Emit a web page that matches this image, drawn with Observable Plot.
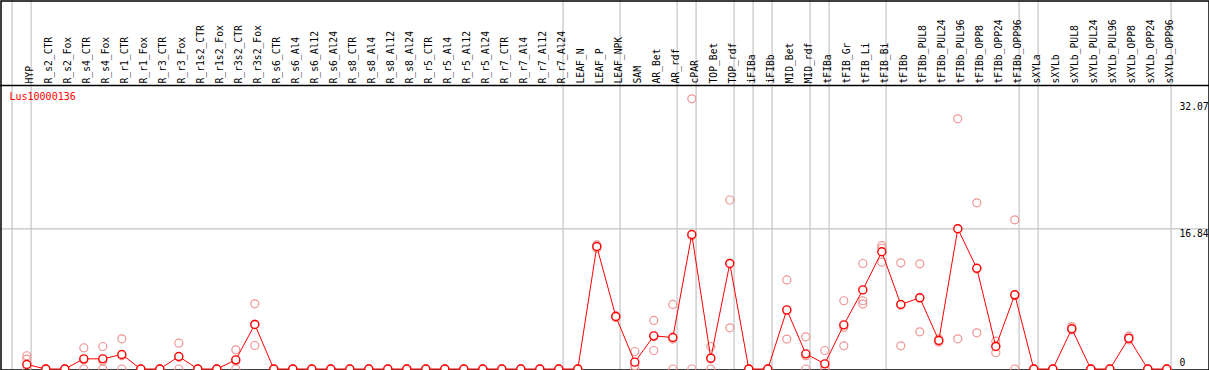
<!DOCTYPE html>
<html>
<head>
<meta charset="utf-8">
<script src="https://cdn.jsdelivr.net/npm/d3@7"></script>
<script src="https://cdn.jsdelivr.net/npm/@observablehq/plot@0.6"></script>
<style>
  html, body { margin: 0; padding: 0; background: #fff; }
  svg { display: block; }
</style>
</head>
<body>
<script>
const geneName = "Lus10000136";

const samples = [
  "HYP", "R_s2_CTR", "R_s2_Fox", "R_s4_CTR", "R_s4_Fox", "R_r1_CTR", "R_r1_Fox",
  "R_r3_CTR", "R_r3_Fox", "R_r1s2_CTR", "R_r1s2_Fox", "R_r3s2_CTR", "R_r3s2_Fox",
  "R_s6_CTR", "R_s6_Al4", "R_s6_Al12", "R_s6_Al24", "R_s8_CTR", "R_s8_Al4", "R_s8_Al12",
  "R_s8_Al24", "R_r5_CTR", "R_r5_Al4", "R_r5_Al12", "R_r5_Al24", "R_r7_CTR", "R_r7_Al4",
  "R_r7_Al12", "R_r7_Al24", "LEAF_N", "LEAF_P", "LEAF_NPK", "SAM", "AR_Bet", "AR_rdf",
  "cPAR", "TOP_Bet", "TOP_rdf", "iFIBa", "iFIBb", "MID_Bet", "MID_rdf", "tFIBa",
  "tFIB_Gr", "tFIB_Li", "tFIB_Bi", "tFIBb", "tFIBb_PUL8", "tFIBb_PUL24", "tFIBb_PUL96",
  "tFIBb_OPP8", "tFIBb_OPP24", "tFIBb_OPP96", "sXYLa", "sXYLb", "sXYLb_PUL8",
  "sXYLb_PUL24", "sXYLb_PUL96", "sXYLb_OPP8", "sXYLb_OPP24", "sXYLb_OPP96"
];

// mean expression per sample
const means = [
  0.54, 0, 0, 1.22, 1.22, 1.74, 0, 0, 1.5, 0, 0, 1.1, 5.35,
  0, 0, 0, 0, 0, 0, 0, 0, 0, 0, 0, 0, 0, 0, 0, 0, 0,
  14.71, 6.31, 0.82, 3.98, 3.78, 16.16, 1.3, 12.67, 0, 0, 7.1, 1.82, 0.62,
  5.3, 9.5, 14.08, 7.75, 8.55, 3.42, 16.84, 12.1, 2.7, 8.91,
  0, 0, 4.83, 0, 0, 3.7, 0, 0
];

// replicate values per sample
const rep1 = [
  1.59, 0, 0, 2.55, 2.7, 3.63, 0, 0, 3.1, 0, 0, 2.3, 7.83,
  0, 0, 0, 0, 0, 0, 0, 0, 0, 0, 0, 0, 0, 0, 0, 0, 0,
  14.9, 6.4, 2.1, 5.83, 7.75, 32.45, 2.7, 20.3, 0, 0, 10.7, 3.87, 2.22,
  8.2, 12.67, 14.83, 12.75, 12.63, 3.63, 30.05, 19.96, 3.34, 17.92,
  0, 0, 5.1, 0, 0, 3.94, 0, 0
];
const rep2 = [
  1.18, 0, 0, 0, 0, 0, 0, 0, 0, 0, 0, 0, 2.82,
  0, 0, 0, 0, 0, 0, 0, 0, 0, 0, 0, 0, 0, 0, 0, 0, 0,
  14.5, 6.2, 0, 2.22, 0, 0, 0, 4.95, 0, 0, 3.6, 0, 0,
  2.78, 8.2, 14.5, 2.78, 4.47, 3.22, 3.63, 4.35, 1.95, 0,
  0, 0, 4.7, 0, 0, 3.5, 0, 0
];
const rep3 = [
  0, 0, 0, 1.1, 0.96, 1.6, 0, 0, 1.4, 0, 0, 1.0, 5.4,
  0, 0, 0, 0, 0, 0, 0, 0, 0, 0, 0, 0, 0, 0, 0, 0, 0,
  14.7, 6.3, 0.4, 3.9, 3.6, 16.0, 1.2, 12.7, 0, 0, 7.0, 1.6, 0,
  5.0, 7.8, 12.83, 7.7, 8.55, 3.4, 16.84, 12.0, 2.8, 8.8,
  0, 0, 4.7, 0, 0, 3.66, 0, 0
];

// index of the last sample in each group (group separators)
const groupEnds = [-1, 0, 28, 31, 34, 35, 37, 38, 39, 41, 42, 45, 52, 53, 60];

const yTicks = [0, 16.84, 32.07];
const yTop = 34.05;

const meanData = means.map((v, i) => ({i, v}));
const repData = [rep1, rep2, rep3].flatMap(r => r.map((v, i) => ({i, v})));
const labelData = samples.map((s, i) => ({i, s}));

const FONT = "DejaVu Sans Mono";
const RED = "#ff0000";
const PINK = "#ef9494";
const GRID = "#c4c4c4";

const chart = Plot.plot({
  width: 1209,
  height: 370,
  margin: 0,
  style: {background: "#fff", fontFamily: FONT, overflow: "visible"},
  x: {type: "linear", domain: [0, samples.length - 1], range: [26.3, 1166.3], axis: null},
  y: {type: "linear", domain: [0, yTop], range: [368.5, 85], axis: null},
  marks: [
    // group separators (full height)
    Plot.ruleX(groupEnds, {x: d => d, dx: 4.3, stroke: GRID, strokeWidth: 1.2}),
    // horizontal grid at middle tick
    Plot.ruleY(yTicks.filter(t => t > 0 && t < 20), {y: d => d, stroke: GRID, strokeWidth: 1.2}),
    // header separator line
    Plot.ruleY([yTop], {stroke: "#000", strokeWidth: 1.5}),
    // outer border
    Plot.frame({stroke: "#000", strokeWidth: 1.5, inset: 0.5}),
    // sample labels (rotated)
    Plot.text(labelData, {
      x: "i", text: "s", frameAnchor: "top", dy: 83, dx: -1, rotate: -90,
      textAnchor: "start", fontSize: 9.7, fill: "#000", fontFamily: FONT
    }),
    // gene name
    Plot.text([geneName], {
      frameAnchor: "top-left", dx: 9, dy: 92.5, textAnchor: "start", lineAnchor: "top",
      fill: RED, fontSize: 10, fontFamily: FONT
    }),
    // right tick labels
    Plot.text(yTicks.filter(t => t > 0), {
      y: d => d, text: d => String(d), frameAnchor: "right", dx: -30, dy: 1,
      textAnchor: "start", lineAnchor: "top", fontSize: 9.7, fill: "#000", fontFamily: FONT
    }),
    Plot.text(yTicks.filter(t => t === 0), {
      y: d => d, text: d => String(d), frameAnchor: "right", dx: -30, dy: -3,
      textAnchor: "start", lineAnchor: "bottom", fontSize: 9.7, fill: "#000", fontFamily: FONT
    }),
    // replicates
    Plot.dot(repData, {x: "i", y: "v", r: 4, stroke: PINK, strokeWidth: 1.2, fill: "none"}),
    // mean line and points
    Plot.line(meanData, {x: "i", y: "v", stroke: RED, strokeWidth: 1}),
    Plot.dot(meanData, {x: "i", y: "v", r: 4, stroke: RED, strokeWidth: 1.4, fill: "#fff"})
  ]
});

document.body.appendChild(chart);
</script>
</body>
</html>
